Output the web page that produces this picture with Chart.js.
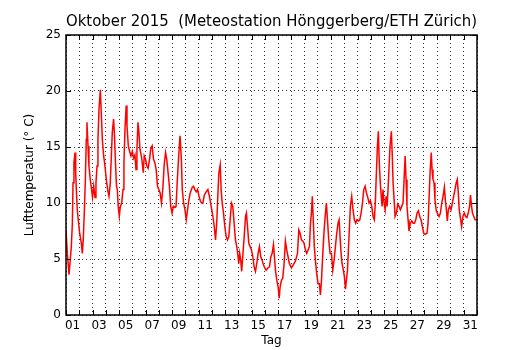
<!DOCTYPE html>
<html>
<head>
<meta charset="utf-8">
<script src="https://cdn.jsdelivr.net/npm/chart.js@4"></script>
<style>
  body { margin: 0; background: #fff; }
</style>
</head>
<body>
<canvas id="tempChart" width="530" height="350"></canvas>
<script>
// Lufttemperatur Oktober 2015, Zeit in Tagen ab 1. Okt 00:00
var dayTimes = [
  0, 0.1, 0.23, 0.4, 0.48, 0.53, 0.6, 0.68, 0.73, 0.78, 0.85, 0.95, 1.03, 1.16, 1.23, 1.3, 1.38, 1.46, 1.53, 1.58,
  1.66, 1.73, 1.83, 1.93, 2.0, 2.09, 2.19, 2.26, 2.34, 2.41, 2.49, 2.59, 2.66, 2.74, 2.84, 2.94, 3.04, 3.14, 3.24, 3.34,
  3.42, 3.49, 3.59, 3.66, 3.74, 3.81, 3.87, 3.94, 4.02, 4.1, 4.2, 4.3, 4.37, 4.45, 4.54, 4.6, 4.7, 4.8, 4.9, 5.0,
  5.1, 5.2, 5.28, 5.35, 5.43, 5.5, 5.58, 5.68, 5.75, 5.83, 5.9, 6.0, 6.1, 6.2, 6.3, 6.4, 6.5, 6.6, 6.7, 6.8,
  6.9, 7.0, 7.1, 7.2, 7.3, 7.4, 7.51, 7.6, 7.7, 7.8, 7.9, 8.0, 8.1, 8.22, 8.3, 8.4, 8.5, 8.6, 8.7, 8.77,
  8.87, 8.97, 9.07, 9.17, 9.27, 9.37, 9.52, 9.62, 9.72, 9.82, 9.92, 10.03, 10.13, 10.23, 10.33, 10.43,
  10.57, 10.7, 10.82, 10.95, 11.08, 11.18, 11.28, 11.38, 11.45, 11.53, 11.63, 11.7, 11.78, 11.88, 11.98, 12.08, 12.18, 12.28, 12.38, 12.48,
  12.58, 12.68, 12.78, 12.88, 12.98, 13.03, 13.1, 13.18, 13.25, 13.33, 13.44, 13.54, 13.61, 13.69, 13.79, 13.89, 13.99, 14.09, 14.19, 14.29,
  14.39, 14.49, 14.59, 14.69, 14.79, 14.89, 14.99, 15.1, 15.22, 15.35, 15.45, 15.55, 15.65, 15.72, 15.8, 15.9, 16.0, 16.08, 16.15, 16.25,
  16.35, 16.45, 16.55, 16.65, 16.75, 16.85, 17.0, 17.15, 17.3, 17.46, 17.56, 17.66, 17.76, 17.86, 17.96, 18.06, 18.16, 18.26, 18.36, 18.44,
  18.51, 18.58, 18.66, 18.73, 18.81, 18.91, 19.01, 19.11, 19.19, 19.27, 19.37, 19.47, 19.57, 19.64, 19.72, 19.82, 19.92, 20.02, 20.12, 20.22,
  20.32, 20.42, 20.52, 20.6,
  20.67, 20.75, 20.82, 20.92, 21.0, 21.08, 21.15, 21.23, 21.3, 21.38, 21.45, 21.55, 21.65, 21.75, 21.85, 21.95, 22.06, 22.16, 22.26, 22.36,
  22.46, 22.56, 22.66, 22.76, 22.86, 22.96, 23.06, 23.16, 23.26, 23.34, 23.41, 23.49, 23.56, 23.62, 23.69, 23.76, 23.84, 23.91, 23.99, 24.07,
  24.14, 24.22, 24.29, 24.37, 24.44, 24.54, 24.61, 24.67, 24.75, 24.82, 24.92, 25.02, 25.12, 25.22, 25.32, 25.42, 25.5, 25.58, 25.65, 25.72,
  25.8, 25.87, 25.97, 26.08, 26.18, 26.28, 26.38, 26.48, 26.58, 26.68, 26.78, 26.88, 26.98, 27.08, 27.23, 27.31, 27.38, 27.46, 27.55, 27.61,
  27.68, 27.76, 27.83, 27.93, 28.04, 28.14, 28.24, 28.34, 28.44, 28.54, 28.61, 28.69, 28.76, 28.84, 28.94, 29.04, 29.14, 29.24, 29.34, 29.43,
  29.51, 29.59, 29.66, 29.77, 29.84, 29.94, 30.04, 30.14, 30.24, 30.34, 30.44, 30.51, 30.59, 30.66, 30.76, 30.86, 31.0
];
var airTemp = [
  7.6, 5.5, 3.6, 6.1, 8.2, 11.8, 13.6, 14.5, 12.7, 11.2, 9.4, 8.2, 7.3, 6.4, 5.5, 6.7, 9.1, 12.1, 15.7, 17.2,
  15.1, 13.3, 12.1, 11.2, 10.5, 11.5, 10.5, 11.8, 13.3, 15.7, 18.4, 20.1, 18.1, 15.7, 14.2, 13.3, 12.1, 11.2, 10.6, 11.8,
  14.2, 16.3, 17.5, 16.0, 13.3, 11.5, 11.2, 9.7, 8.8, 9.7, 10.0, 11.2, 13.6, 16.6, 18.7, 16.9, 15.1, 14.6, 14.2, 14.6,
  14.0, 14.3, 13.0, 14.8, 17.2, 16.3, 14.8, 14.2, 13.6, 12.7, 14.2, 13.9, 13.3, 13.1, 13.9, 14.9, 15.1, 13.9, 13.6, 13.0,
  11.5, 11.2, 10.9, 10.0, 11.2, 13.3, 14.5, 13.9, 12.7, 11.5, 9.7, 9.1, 9.7, 9.6, 9.7, 12.1, 14.2, 16.0, 13.9, 11.2,
  10.0, 9.4, 8.5, 9.4, 10.3, 10.9, 11.4, 11.5, 11.2, 11.0, 11.2, 10.6, 10.2, 10.0, 10.0, 10.7,
  11.0, 11.2, 10.6, 9.7, 8.8, 7.9, 6.7, 8.5, 10.6, 12.7, 13.4, 11.2, 10.0, 9.1, 7.9, 7.0, 6.7, 7.0, 8.5, 10.0,
  9.7, 8.2, 6.7, 6.1, 5.2, 4.6, 5.5, 4.9, 3.9, 5.2, 7.0, 8.8, 9.1, 7.9, 6.4, 6.1, 5.8, 5.2, 4.3, 3.9,
  4.6, 5.5, 6.1, 5.2, 4.9, 4.5, 4.2, 4.0, 4.2, 4.3, 5.2, 5.5, 6.3, 5.2, 4.0, 3.1, 2.5, 1.5, 2.5, 3.1,
  3.3, 4.6, 6.6, 5.8, 5.2, 4.6, 4.2, 4.5, 4.8, 5.5, 7.6, 7.3, 6.7, 6.6, 6.4, 5.8, 5.5, 5.8, 6.1, 8.2,
  9.1, 10.6, 8.2, 6.1, 4.9, 3.7, 2.8, 2.8, 1.8, 3.1, 5.5, 7.6, 9.1, 10.0, 8.5, 6.7, 5.5, 5.5, 4.0, 4.9,
  6.1, 7.3, 8.2, 8.5,
  7.0, 5.5, 4.6, 4.0, 3.4, 2.3, 3.1, 4.0, 5.8, 7.9, 9.7, 10.6, 9.4, 8.5, 8.2, 8.5, 8.4, 8.5, 9.1, 10.0,
  11.2, 11.5, 10.9, 10.5, 10.0, 10.2, 9.7, 8.8, 8.5, 10.3, 12.7, 15.1, 16.4, 13.9, 12.1, 10.9, 9.7, 11.2, 10.0, 9.4,
  10.6, 9.7, 11.2, 13.3, 15.1, 16.4, 14.2, 11.8, 10.3, 8.8, 9.1, 9.9, 9.7, 9.4, 9.7, 10.0, 12.1, 14.2, 12.1, 9.7,
  8.5, 7.5, 8.2, 8.4, 8.2, 8.2, 8.5, 9.1, 9.3, 8.8, 8.5, 7.9, 7.3, 7.2, 7.3, 8.2, 10.3, 12.7, 14.5, 13.0,
  12.1, 11.8, 10.3, 9.3, 9.0, 8.8, 9.1, 10.0, 10.6, 11.4, 10.3, 9.4, 8.4, 9.4, 9.7, 9.4, 10.0, 10.6, 11.2, 11.8,
  12.1, 10.9, 9.4, 8.5, 7.9, 8.8, 9.1, 8.8, 8.7, 9.1, 9.7, 10.7, 9.7, 9.1, 8.8, 8.5, 8.5
];
var dayLabels = ['01', '03', '05', '07', '09', '11', '13', '15', '17', '19', '21', '23', '25', '27', '29', '31'];
var yTicks = [0, 5, 10, 15, 20, 25];

var points = [];
for (var i = 0; i < dayTimes.length; i++) {
    points.push({ x: dayTimes[i], y: airTemp[i] });
}

// Rahmen + kleine Ticks nach innen (wie matplotlib)
var frameTicks = {
    id: 'frameTicks',
    afterDatasetsDraw: function (chart) {
        var ctx = chart.ctx;
        var a = chart.chartArea;
        var x = chart.scales.x, y = chart.scales.y;
        ctx.save();
        ctx.strokeStyle = '#000';
        ctx.lineWidth = 1;
        ctx.beginPath();
        x.ticks.forEach(function (t) {
            var px = Math.round(x.getPixelForValue(t.value)) + 0.5;
            ctx.moveTo(px, a.bottom); ctx.lineTo(px, a.bottom - 5);
            ctx.moveTo(px, a.top); ctx.lineTo(px, a.top + 5);
        });
        y.ticks.forEach(function (t) {
            var py = Math.round(y.getPixelForValue(t.value)) + 0.5;
            ctx.moveTo(a.left, py); ctx.lineTo(a.left + 5, py);
            ctx.moveTo(a.right, py); ctx.lineTo(a.right - 5, py);
        });
        ctx.stroke();
        ctx.lineWidth = 1.5;
        ctx.strokeRect(a.left, a.top, a.right - a.left, a.bottom - a.top);
        ctx.restore();
    }
};

Chart.defaults.font.family = "'DejaVu Sans', sans-serif";
Chart.defaults.color = '#000';

new Chart(document.getElementById('tempChart'), {
    type: 'line',
    data: {
        datasets: [{
            data: points,
            borderColor: '#ff0000',
            borderWidth: 1.5,
            pointRadius: 0,
            tension: 0,
            fill: false
        }]
    },
    options: {
        responsive: false,
        animation: false,
        devicePixelRatio: 1,
        layout: { padding: { left: 0, right: 53, top: 0, bottom: 0 } },
        plugins: {
            legend: { display: false },
            tooltip: { enabled: false },
            title: {
                display: true,
                fullSize: false,
                text: 'Oktober 2015  (Meteostation Hönggerberg/ETH Zürich)',
                color: '#000',
                font: { size: 15, weight: 'normal' },
                padding: { top: 13, bottom: 4 }
            }
        },
        scales: {
            x: {
                type: 'linear',
                min: 0,
                max: 31,
                afterFit: function (s) { s.height = 35; },
                // in v4 steuert border.dash die Gitterlinien
                border: { display: false, dash: [1, 3] },
                grid: {
                    drawTicks: false,
                    color: 'rgba(0,0,0,0.8)',
                    lineWidth: 1
                },
                ticks: {
                    stepSize: 1,
                    autoSkip: false,
                    maxRotation: 0,
                    padding: 4,
                    labelOffset: 6.6,
                    font: { size: 12 },
                    callback: function (v) {
                        return (v % 2 === 0 && v < 31) ? dayLabels[v / 2] : '';
                    }
                },
                title: {
                    display: true,
                    text: 'Tag',
                    font: { size: 12 },
                    padding: { top: 0, bottom: 2 }
                }
            },
            y: {
                min: 0,
                max: 25,
                afterFit: function (s) { s.width = 66; },
                afterBuildTicks: function (s) {
                    s.ticks = yTicks.map(function (v) { return { value: v }; });
                },
                border: { display: false, dash: [1, 3] },
                grid: {
                    drawTicks: false,
                    color: 'rgba(0,0,0,0.8)',
                    lineWidth: 1
                },
                ticks: {
                    padding: 5,
                    font: { size: 12 }
                },
                title: {
                    display: true,
                    text: 'Lufttemperatur (° C)',
                    font: { size: 12 },
                    padding: { top: 23, bottom: 0 }
                }
            }
        }
    },
    plugins: [frameTicks]
});
</script>
</body>
</html>
